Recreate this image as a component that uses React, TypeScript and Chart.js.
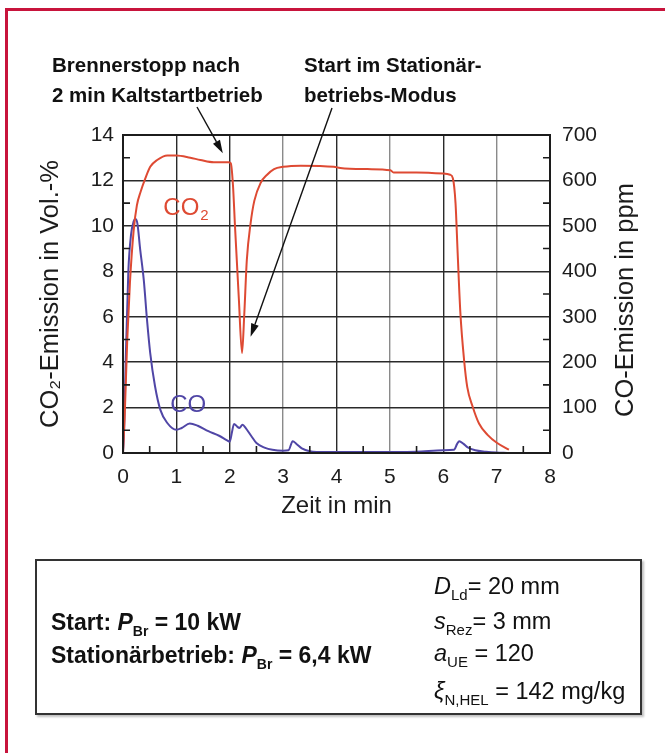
import React, { useEffect, useRef } from "react";
import { Chart, registerables } from "chart.js";

Chart.register(...registerables);

const FONT = '"Liberation Sans", Arial, Helvetica, sans-serif';

// ---- data ----
const co2Time = [0, 0.03, 0.08, 0.13, 0.2, 0.26, 0.33, 0.42, 0.51, 0.64, 0.83, 1.0, 1.26, 1.45, 1.7, 1.98, 2.02, 2.06, 2.1, 2.17, 2.23, 2.27, 2.32, 2.39, 2.46, 2.58, 2.7, 2.83, 3.0, 3.33, 3.95, 4.07, 4.58, 5.01, 5.07, 5.5, 6.0, 6.13, 6.18, 6.23, 6.27, 6.32, 6.39, 6.45, 6.55, 6.67, 6.83, 7.01, 7.23];
const co2Values = [0, 1.5, 5.0, 7.5, 9.8, 10.9, 11.5, 12.1, 12.6, 12.9, 13.1, 13.1, 13.0, 12.9, 12.8, 12.8, 12.75, 11.8, 9.9, 6.8, 4.4, 6.0, 8.5, 10.1, 11.1, 11.9, 12.25, 12.5, 12.6, 12.65, 12.6, 12.55, 12.5, 12.45, 12.35, 12.35, 12.3, 12.25, 12.1, 11.0, 8.8, 6.2, 4.1, 2.9, 2.05, 1.3, 0.8, 0.44, 0.15];

const coTime = [0, 0.02, 0.05, 0.1, 0.15, 0.2, 0.23, 0.27, 0.32, 0.39, 0.45, 0.51, 0.6, 0.7, 0.83, 1.0, 1.1, 1.25, 1.4, 1.6, 1.8, 1.95, 2.0, 2.04, 2.08, 2.14, 2.18, 2.24, 2.3, 2.4, 2.5, 2.65, 2.8, 3.0, 3.1, 3.18, 3.25, 3.35, 3.5, 3.8, 4.5, 5.5, 6.0, 6.2, 6.26, 6.3, 6.38, 6.45, 6.6, 6.8, 7.0, 7.2];
const coValues = [0, 50, 200, 400, 480, 510, 515, 505, 450, 380, 293, 220, 147, 95, 66, 51, 55, 65, 60, 48, 38, 28, 25, 45, 64, 58, 55, 62, 55, 38, 22, 12, 7, 5, 6, 26, 20, 10, 4, 2, 2, 3, 6, 7, 20, 26, 20, 13, 6, 3, 1, 0];

const xTicks = [0, 1, 2, 3, 4, 5, 6, 7, 8];
const leftTicks = [0, 2, 4, 6, 8, 10, 12, 14];
const rightTicks = [0, 100, 200, 300, 400, 500, 600, 700];

const xTitle = "Zeit in min";
const leftTitle = "CO\u2082-Emission in Vol.-%";
const rightTitle = "CO-Emission in ppm";

const RED = "#de4a33";
const BLUE = "#5046a6";
const INK = "#1c1c1c";

// annotation anchors (data coordinates for arrow tips)
const arrowTips = [
  { x: 1.87, y: 13.2 },
  { x: 2.39, y: 5.12 },
];
const arrowStarts = [
  { px: 197, py: 107 },
  { px: 332, py: 108 },
];
const co2LabelPos = { x: 0.755, y: 10.48 };
const coLabelPos = { x: 0.886, y: 1.81 };

const decorPlugin = {
  id: "decor",
  afterDatasetsDraw(chart: any) {
    const { ctx, chartArea: ca, scales } = chart;
    const xs = scales.x;
    const ys = scales.y;
    ctx.save();
    // frame
    ctx.strokeStyle = INK;
    ctx.lineWidth = 2;
    ctx.strokeRect(ca.left, ca.top, ca.right - ca.left, ca.bottom - ca.top);
    // minor inward ticks
    ctx.lineWidth = 1.6;
    ctx.beginPath();
    for (let i = 0; i < xTicks.length - 1; i++) {
      const px = xs.getPixelForValue((xTicks[i] + xTicks[i + 1]) / 2);
      ctx.moveTo(px, ca.bottom);
      ctx.lineTo(px, ca.bottom - 7);
    }
    for (let i = 0; i < leftTicks.length - 1; i++) {
      const py = ys.getPixelForValue((leftTicks[i] + leftTicks[i + 1]) / 2);
      ctx.moveTo(ca.left, py);
      ctx.lineTo(ca.left + 7, py);
      ctx.moveTo(ca.right, py);
      ctx.lineTo(ca.right - 7, py);
    }
    ctx.stroke();

    // series labels
    ctx.textBaseline = "alphabetic";
    ctx.textAlign = "left";
    ctx.font = `24px ${FONT}`;
    ctx.fillStyle = RED;
    const lx = xs.getPixelForValue(co2LabelPos.x);
    const ly = ys.getPixelForValue(co2LabelPos.y);
    ctx.fillText("CO", lx, ly);
    const w = ctx.measureText("CO").width;
    ctx.font = `15px ${FONT}`;
    ctx.fillText("2", lx + w + 1, ly + 5);
    ctx.font = `24px ${FONT}`;
    ctx.fillStyle = BLUE;
    ctx.fillText("CO", xs.getPixelForValue(coLabelPos.x), ys.getPixelForValue(coLabelPos.y));

    // arrows
    ctx.strokeStyle = "#111";
    ctx.fillStyle = "#111";
    ctx.lineWidth = 1.4;
    arrowTips.forEach((tip, i) => {
      const sx = arrowStarts[i].px;
      const sy = arrowStarts[i].py;
      const tx = xs.getPixelForValue(tip.x);
      const ty = ys.getPixelForValue(tip.y);
      const ang = Math.atan2(ty - sy, tx - sx);
      const len = 13;
      const hw = 4;
      const bx = tx - len * Math.cos(ang);
      const by = ty - len * Math.sin(ang);
      ctx.beginPath();
      ctx.moveTo(sx, sy);
      ctx.lineTo(bx, by);
      ctx.stroke();
      ctx.beginPath();
      ctx.moveTo(tx, ty);
      ctx.lineTo(bx + hw * Math.sin(ang), by - hw * Math.cos(ang));
      ctx.lineTo(bx - hw * Math.sin(ang), by + hw * Math.cos(ang));
      ctx.closePath();
      ctx.fill();
    });

    // right axis title (reads bottom to top)
    ctx.font = `25.5px ${FONT}`;
    ctx.fillStyle = INK;
    ctx.textAlign = "center";
    ctx.textBaseline = "middle";
    ctx.translate(626, (ca.top + ca.bottom) / 2 + 6);
    ctx.rotate(-Math.PI / 2);
    ctx.fillText(rightTitle, 0, 0);
    ctx.restore();
  },
};

function TextLine(props: { x: number; base: number; size: number; bold?: boolean; children: any }) {
  const { x, base, size, bold, children } = props;
  return (
    <div
      style={{
        position: "absolute",
        left: x,
        top: base - 0.8465 * size,
        fontSize: size,
        lineHeight: size + "px",
        fontWeight: bold ? 700 : 400,
        whiteSpace: "nowrap",
        color: "#111",
        fontFamily: FONT,
      }}
    >
      {children}
    </div>
  );
}

function Sub(props: { size: number; drop: number; children: any }) {
  return (
    <span style={{ fontSize: props.size, position: "relative", top: props.drop }}>{props.children}</span>
  );
}

export default function App() {
  const ref = useRef<HTMLCanvasElement>(null);

  useEffect(() => {
    if (!ref.current) return;
    const chart = new Chart(ref.current, {
      type: "line",
      data: {
        datasets: [
          {
            label: "CO2",
            data: co2Time.map((t, i) => ({ x: t, y: co2Values[i] })),
            borderColor: RED,
            borderWidth: 2,
            pointRadius: 0,
            cubicInterpolationMode: "monotone",
            yAxisID: "y",
          },
          {
            label: "CO",
            data: coTime.map((t, i) => ({ x: t, y: coValues[i] })),
            borderColor: BLUE,
            borderWidth: 2,
            pointRadius: 0,
            cubicInterpolationMode: "monotone",
            yAxisID: "y1",
          },
        ],
      },
      options: {
        responsive: false,
        animation: false,
        devicePixelRatio: 1,
        layout: { padding: { top: 135, left: 0, right: 0, bottom: 220 } },
        plugins: { legend: { display: false }, tooltip: { enabled: false } },
        scales: {
          x: {
            type: "linear",
            min: 0,
            max: 8,
            afterBuildTicks: (s: any) => {
              s.ticks = xTicks.map((v) => ({ value: v }));
            },
            afterFit: (s: any) => {
              s.height = 80;
            },
            border: { display: false },
            grid: {
              drawTicks: false,
              color: (c: any) => ([3, 5, 7].includes(c.tick?.value) ? "#8a8a8a" : "#2a2a2a"),
              lineWidth: 1.4,
            },
            ticks: { padding: 12, color: INK, font: { family: FONT, size: 21 }, autoSkip: false, maxRotation: 0 },
            title: {
              display: true,
              text: xTitle,
              color: INK,
              font: { family: FONT, size: 24 },
              padding: { top: 0, bottom: 12.6 },
            },
          },
          y: {
            type: "linear",
            position: "left",
            min: 0,
            max: 14,
            afterBuildTicks: (s: any) => {
              s.ticks = leftTicks.map((v) => ({ value: v }));
            },
            afterFit: (s: any) => {
              s.width = 123;
            },
            border: { display: false },
            grid: { drawTicks: false, color: "#2a2a2a", lineWidth: 1.4 },
            ticks: { padding: 9, color: INK, font: { family: FONT, size: 21 }, autoSkip: false },
            title: {
              display: true,
              text: leftTitle,
              color: INK,
              font: { family: FONT, size: 25.5 },
              padding: { top: 35.5, bottom: 0 },
            },
          },
          y1: {
            type: "linear",
            position: "right",
            min: 0,
            max: 700,
            afterBuildTicks: (s: any) => {
              s.ticks = rightTicks.map((v) => ({ value: v }));
            },
            afterFit: (s: any) => {
              s.width = 115;
            },
            border: { display: false },
            grid: { drawOnChartArea: false, drawTicks: false },
            ticks: { padding: 12, color: INK, font: { family: FONT, size: 21 }, autoSkip: false },
          },
        },
      },
      plugins: [decorPlugin],
    } as any);
    return () => chart.destroy();
  }, []);

  return (
    <div
      style={{
        position: "absolute",
        left: 0,
        top: 0,
        width: 665,
        height: 753,
        background: "#fff",
        overflow: "hidden",
        fontFamily: FONT,
      }}
    >
      <div
        style={{
          position: "absolute",
          left: 5,
          top: 8,
          right: -10,
          bottom: -10,
          borderLeft: "3px solid #c8143c",
          borderTop: "3px solid #c8143c",
        }}
      />
      <canvas ref={ref} width={665} height={753} style={{ position: "absolute", left: 0, top: 0 }} />

      <TextLine x={52} base={72} size={20.5} bold>
        Brennerstopp nach
      </TextLine>
      <TextLine x={52} base={102} size={20.5} bold>
        2 min Kaltstartbetrieb
      </TextLine>
      <TextLine x={304} base={72} size={20.5} bold>
        Start im Stationär-
      </TextLine>
      <TextLine x={304} base={102} size={20.5} bold>
        betriebs-Modus
      </TextLine>

      <div
        style={{
          position: "absolute",
          left: 35,
          top: 559,
          width: 607,
          height: 156,
          boxSizing: "border-box",
          border: "2px solid #333",
          boxShadow: "2px 2px 2px rgba(0,0,0,0.25)",
        }}
      />
      <TextLine x={51} base={630} size={23} bold>
        Start: <i>P</i>
        <Sub size={14} drop={6}>Br</Sub> = 10 kW
      </TextLine>
      <TextLine x={51} base={663} size={23} bold>
        Stationärbetrieb: <i>P</i>
        <Sub size={14} drop={6}>Br</Sub> = 6,4 kW
      </TextLine>
      <TextLine x={434} base={595} size={23.5}>
        <i>D</i>
        <Sub size={15} drop={6}>Ld</Sub>= 20 mm
      </TextLine>
      <TextLine x={434} base={630} size={23.5}>
        <i>s</i>
        <Sub size={15} drop={6}>Rez</Sub>= 3 mm
      </TextLine>
      <TextLine x={434} base={662} size={23.5}>
        <i>a</i>
        <Sub size={15} drop={6}>UE</Sub> = 120
      </TextLine>
      <TextLine x={434} base={700} size={23.5}>
        <i>ξ</i>
        <Sub size={15} drop={6}>N,HEL</Sub> = 142 mg/kg
      </TextLine>
    </div>
  );
}
